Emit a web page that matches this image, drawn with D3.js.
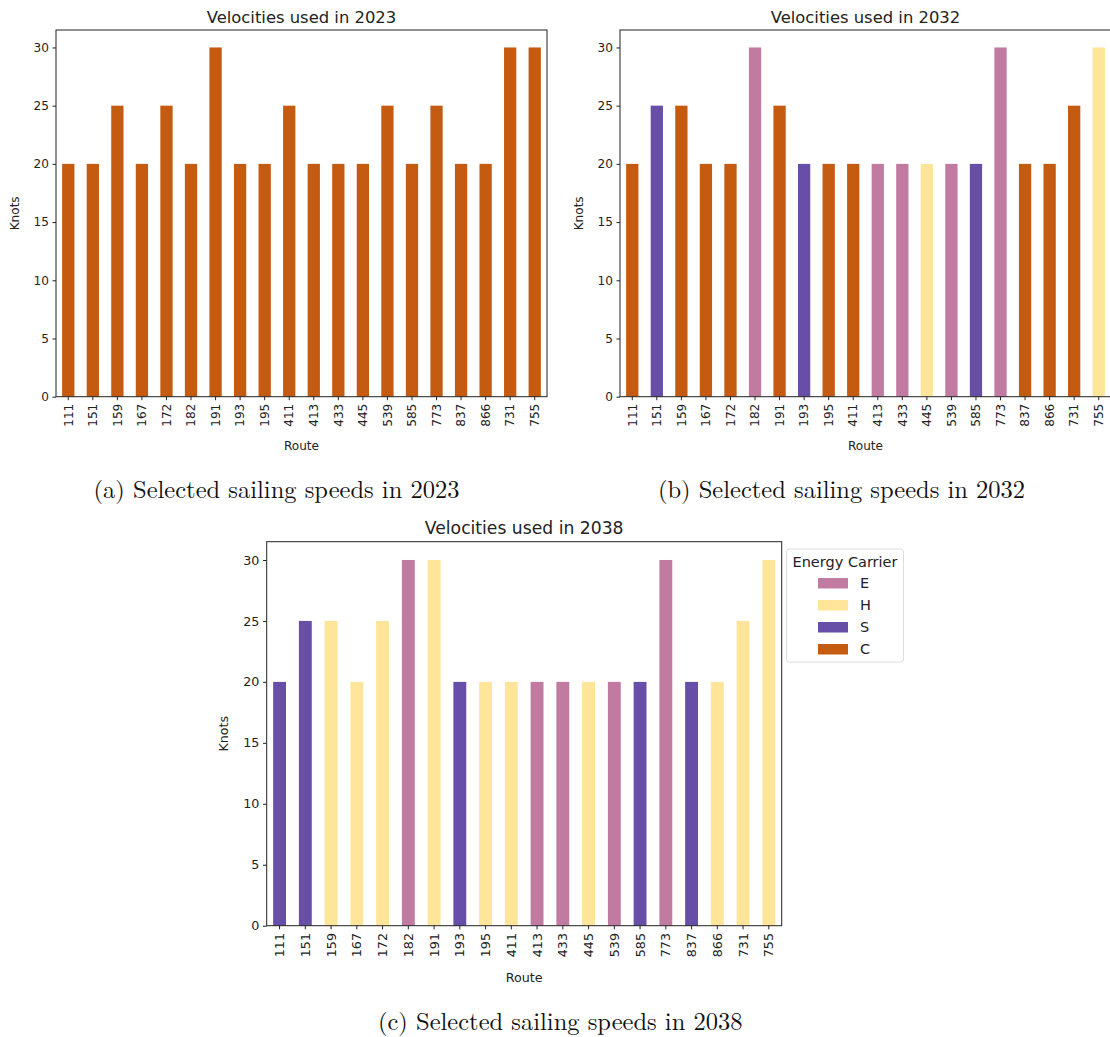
<!DOCTYPE html>
<html>
<head>
<meta charset="utf-8">
<script src="https://cdn.jsdelivr.net/npm/d3@7"></script>
<style>
  body { margin: 0; background: #fff; }
  svg { display: block; }
  .tick text { font-family: "DejaVu Sans", sans-serif; fill: #222; }
  .lbl, .ttl { font-family: "DejaVu Sans", sans-serif; fill: #222; }
  .leg { font-family: "DejaVu Sans", sans-serif; font-size: 14.5px; fill: #222; }
  .cap { font-family: "Latin Modern Roman", "CMU Serif", "DejaVu Serif", serif; font-size: 24.5px; fill: #111; }
</style>
</head>
<body>
<svg id="fig" width="1110" height="1037"></svg>
<script>
// Routes shared by all three years
const routes = ["111","151","159","167","172","182","191","193","195","411","413","433","445","539","585","773","837","866","731","755"];

// Sailing speed (knots) per route
const knots2023 = [20,20,25,20,25,20,30,20,20,25,20,20,20,25,20,25,20,20,30,30];
const knots2032 = [20,25,25,20,20,30,25,20,20,20,20,20,20,20,20,30,20,20,25,30];
const knots2038 = [20,25,25,20,25,30,30,20,20,20,20,20,20,20,20,30,20,20,25,30];

// Energy carrier per route
const carrier2023 = ["C","C","C","C","C","C","C","C","C","C","C","C","C","C","C","C","C","C","C","C"];
const carrier2032 = ["C","S","C","C","C","E","C","S","C","C","E","E","H","E","S","E","C","C","C","H"];
const carrier2038 = ["S","S","H","H","H","E","H","S","H","H","E","E","H","E","S","E","S","H","H","H"];

const carriers = ["E","H","S","C"];
const carrierColors = ["#c27ba0","#ffe599","#674ea7","#c55a11"];
const yTicks = [0,5,10,15,20,25,30];

const color = d3.scaleOrdinal().domain(carriers).range(carrierColors);
const svg = d3.select("#fig");

function panel(opts) {
  const { left, top, width, height, values, kinds, year, caption, captionY, s } = opts;
  const g = svg.append("g").attr("transform", `translate(${left},${top})`);

  const x = d3.scaleBand().domain(routes).range([0, width]).paddingInner(0.5).paddingOuter(0.25);
  const y = d3.scaleLinear().domain([0, 31.5]).range([height, 0]);

  g.selectAll("rect.bar")
    .data(routes.map((r, i) => ({ r, v: values[i], k: kinds[i] })))
    .join("rect")
    .attr("class", "bar")
    .attr("x", d => x(d.r))
    .attr("width", x.bandwidth())
    .attr("y", d => y(d.v))
    .attr("height", d => y(0) - y(d.v))
    .attr("fill", d => color(d.k));

  // frame
  g.append("rect").attr("width", width).attr("height", height)
    .attr("fill", "none").attr("stroke", "#222").attr("stroke-width", 1);

  const tickFont = 12.1 * s;
  const xa = g.append("g").attr("transform", `translate(0,${height})`)
    .call(d3.axisBottom(x).tickSize(3.5 * s).tickPadding(3.5 * s));
  xa.select(".domain").remove();
  xa.selectAll(".tick line").attr("stroke", "#222");
  xa.selectAll(".tick text")
    .style("font-size", tickFont + "px")
    .attr("transform", "rotate(-90)")
    .attr("text-anchor", "end")
    .attr("dy", "0.35em")
    .attr("x", -7 * s)
    .attr("y", 0);

  const ya = g.append("g")
    .call(d3.axisLeft(y).tickValues(yTicks).tickSize(3.5 * s).tickPadding(3.5 * s));
  ya.select(".domain").remove();
  ya.selectAll(".tick line").attr("stroke", "#222");
  ya.selectAll(".tick text").style("font-size", tickFont + "px");

  g.append("text").attr("class", "lbl").style("font-size", tickFont + "px")
    .attr("x", width / 2).attr("y", height + 53.5 * s)
    .attr("text-anchor", "middle").text("Route");
  g.append("text").attr("class", "lbl").style("font-size", tickFont + "px")
    .attr("transform", `translate(${-37 * s},${height / 2}) rotate(-90)`)
    .attr("text-anchor", "middle").text("Knots");
  g.append("text").attr("class", "ttl").style("font-size", (16.4 * s) + "px")
    .attr("x", width / 2).attr("y", -7.2 * s)
    .attr("text-anchor", "middle").text(`Velocities used in ${year}`);

  svg.append("text").attr("class", "cap")
    .attr("x", left + width / 2 + opts.capShift).attr("y", captionY)
    .attr("text-anchor", "middle").text(caption);
}

panel({ left: 56, top: 30, width: 491, height: 366.7, values: knots2023, kinds: carrier2023, s: 1,
        year: 2023, caption: "(a) Selected sailing speeds in 2023", captionY: 498, capShift: -25 });
panel({ left: 620, top: 30, width: 491, height: 366.7, values: knots2032, kinds: carrier2032, s: 1,
        year: 2032, caption: "(b) Selected sailing speeds in 2032", captionY: 498, capShift: -24 });
panel({ left: 266.7, top: 541.7, width: 515, height: 384, values: knots2038, kinds: carrier2038, s: 1.049,
        year: 2038, caption: "(c) Selected sailing speeds in 2038", captionY: 1030, capShift: 36 });

// legend for the 2038 panel
const lg = svg.append("g").attr("transform", "translate(786.5,549)");
lg.append("rect").attr("width", 117).attr("height", 113).attr("rx", 3)
  .attr("fill", "#fff").attr("stroke", "#ddd");
lg.append("text").attr("class", "leg").attr("x", 58.5).attr("y", 18)
  .attr("text-anchor", "middle").text("Energy Carrier");
const items = lg.selectAll("g.item").data(carriers).join("g")
  .attr("class", "item")
  .attr("transform", (d, i) => `translate(31.5,${29 + i * 22})`);
items.append("rect").attr("width", 30).attr("height", 10.5)
  .attr("fill", d => color(d));
items.append("text").attr("class", "leg").attr("x", 42).attr("y", 5.25)
  .attr("dy", "0.35em").text(d => d);
</script>
</body>
</html>
